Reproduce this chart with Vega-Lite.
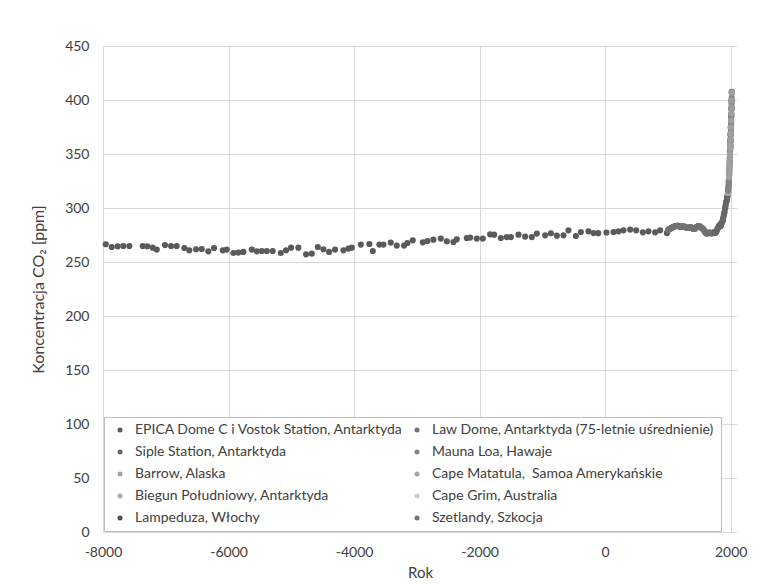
{
  "$schema": "https://vega.github.io/schema/vega-lite/v6.json",
  "width": 634,
  "height": 486,
  "autosize": {"type": "none"},
  "padding": {"left": 103, "top": 46, "right": 24, "bottom": 52},
  "background": "white",
  "config": {
    "view": {"stroke": null},
    "font": "Lato",
    "axis": {"labelFont": "Lato", "titleFont": "Lato", "labelColor": "#404040", "titleColor": "#404040", "gridColor": "#d9d9d9", "gridWidth": 1, "domain": false, "ticks": false, "labelFontSize": 14, "titleFontSize": 15, "titleFontWeight": "normal"}
  },
  "data": {"values": [
    {"s":"EPICA Dome C i Vostok Station, Antarktyda","yr":-7957,"v":266.4},
    {"s":"EPICA Dome C i Vostok Station, Antarktyda","yr":-7861,"v":263.9},
    {"s":"EPICA Dome C i Vostok Station, Antarktyda","yr":-7766,"v":264.5},
    {"s":"EPICA Dome C i Vostok Station, Antarktyda","yr":-7676,"v":264.8},
    {"s":"EPICA Dome C i Vostok Station, Antarktyda","yr":-7580,"v":264.8},
    {"s":"EPICA Dome C i Vostok Station, Antarktyda","yr":-7367,"v":264.8},
    {"s":"EPICA Dome C i Vostok Station, Antarktyda","yr":-7294,"v":264.5},
    {"s":"EPICA Dome C i Vostok Station, Antarktyda","yr":-7208,"v":263.3},
    {"s":"EPICA Dome C i Vostok Station, Antarktyda","yr":-7144,"v":261.5},
    {"s":"EPICA Dome C i Vostok Station, Antarktyda","yr":-7012,"v":265.7},
    {"s":"EPICA Dome C i Vostok Station, Antarktyda","yr":-6916,"v":264.8},
    {"s":"EPICA Dome C i Vostok Station, Antarktyda","yr":-6826,"v":264.8},
    {"s":"EPICA Dome C i Vostok Station, Antarktyda","yr":-6704,"v":263.0},
    {"s":"EPICA Dome C i Vostok Station, Antarktyda","yr":-6625,"v":260.8},
    {"s":"EPICA Dome C i Vostok Station, Antarktyda","yr":-6518,"v":261.8},
    {"s":"EPICA Dome C i Vostok Station, Antarktyda","yr":-6427,"v":262.0},
    {"s":"EPICA Dome C i Vostok Station, Antarktyda","yr":-6322,"v":259.9},
    {"s":"EPICA Dome C i Vostok Station, Antarktyda","yr":-6231,"v":263.0},
    {"s":"EPICA Dome C i Vostok Station, Antarktyda","yr":-6092,"v":260.8},
    {"s":"EPICA Dome C i Vostok Station, Antarktyda","yr":-6029,"v":261.5},
    {"s":"EPICA Dome C i Vostok Station, Antarktyda","yr":-5923,"v":258.3},
    {"s":"EPICA Dome C i Vostok Station, Antarktyda","yr":-5844,"v":258.7},
    {"s":"EPICA Dome C i Vostok Station, Antarktyda","yr":-5764,"v":259.3},
    {"s":"EPICA Dome C i Vostok Station, Antarktyda","yr":-5630,"v":261.5},
    {"s":"EPICA Dome C i Vostok Station, Antarktyda","yr":-5551,"v":259.9},
    {"s":"EPICA Dome C i Vostok Station, Antarktyda","yr":-5471,"v":260.2},
    {"s":"EPICA Dome C i Vostok Station, Antarktyda","yr":-5391,"v":260.2},
    {"s":"EPICA Dome C i Vostok Station, Antarktyda","yr":-5296,"v":260.2},
    {"s":"EPICA Dome C i Vostok Station, Antarktyda","yr":-5168,"v":258.3},
    {"s":"EPICA Dome C i Vostok Station, Antarktyda","yr":-5084,"v":260.8},
    {"s":"EPICA Dome C i Vostok Station, Antarktyda","yr":-5004,"v":263.3},
    {"s":"EPICA Dome C i Vostok Station, Antarktyda","yr":-4888,"v":263.3},
    {"s":"EPICA Dome C i Vostok Station, Antarktyda","yr":-4765,"v":257.1},
    {"s":"EPICA Dome C i Vostok Station, Antarktyda","yr":-4674,"v":257.8},
    {"s":"EPICA Dome C i Vostok Station, Antarktyda","yr":-4578,"v":263.9},
    {"s":"EPICA Dome C i Vostok Station, Antarktyda","yr":-4489,"v":261.8},
    {"s":"EPICA Dome C i Vostok Station, Antarktyda","yr":-4398,"v":259.3},
    {"s":"EPICA Dome C i Vostok Station, Antarktyda","yr":-4303,"v":261.5},
    {"s":"EPICA Dome C i Vostok Station, Antarktyda","yr":-4170,"v":260.8},
    {"s":"EPICA Dome C i Vostok Station, Antarktyda","yr":-4091,"v":262.4},
    {"s":"EPICA Dome C i Vostok Station, Antarktyda","yr":-4037,"v":263.3},
    {"s":"EPICA Dome C i Vostok Station, Antarktyda","yr":-3893,"v":266.1},
    {"s":"EPICA Dome C i Vostok Station, Antarktyda","yr":-3756,"v":266.7},
    {"s":"EPICA Dome C i Vostok Station, Antarktyda","yr":-3702,"v":260.2},
    {"s":"EPICA Dome C i Vostok Station, Antarktyda","yr":-3597,"v":266.1},
    {"s":"EPICA Dome C i Vostok Station, Antarktyda","yr":-3533,"v":266.1},
    {"s":"EPICA Dome C i Vostok Station, Antarktyda","yr":-3416,"v":268.0},
    {"s":"EPICA Dome C i Vostok Station, Antarktyda","yr":-3320,"v":265.2},
    {"s":"EPICA Dome C i Vostok Station, Antarktyda","yr":-3203,"v":265.2},
    {"s":"EPICA Dome C i Vostok Station, Antarktyda","yr":-3150,"v":267.6},
    {"s":"EPICA Dome C i Vostok Station, Antarktyda","yr":-3065,"v":270.1},
    {"s":"EPICA Dome C i Vostok Station, Antarktyda","yr":-2905,"v":268.2},
    {"s":"EPICA Dome C i Vostok Station, Antarktyda","yr":-2832,"v":269.4},
    {"s":"EPICA Dome C i Vostok Station, Antarktyda","yr":-2737,"v":270.7},
    {"s":"EPICA Dome C i Vostok Station, Antarktyda","yr":-2619,"v":271.7},
    {"s":"EPICA Dome C i Vostok Station, Antarktyda","yr":-2523,"v":269.2},
    {"s":"EPICA Dome C i Vostok Station, Antarktyda","yr":-2418,"v":268.5},
    {"s":"EPICA Dome C i Vostok Station, Antarktyda","yr":-2364,"v":271.0},
    {"s":"EPICA Dome C i Vostok Station, Antarktyda","yr":-2205,"v":272.2},
    {"s":"EPICA Dome C i Vostok Station, Antarktyda","yr":-2151,"v":272.6},
    {"s":"EPICA Dome C i Vostok Station, Antarktyda","yr":-2045,"v":271.7},
    {"s":"EPICA Dome C i Vostok Station, Antarktyda","yr":-1949,"v":271.7},
    {"s":"EPICA Dome C i Vostok Station, Antarktyda","yr":-1833,"v":275.6},
    {"s":"EPICA Dome C i Vostok Station, Antarktyda","yr":-1769,"v":275.3},
    {"s":"EPICA Dome C i Vostok Station, Antarktyda","yr":-1662,"v":272.2},
    {"s":"EPICA Dome C i Vostok Station, Antarktyda","yr":-1567,"v":273.1},
    {"s":"EPICA Dome C i Vostok Station, Antarktyda","yr":-1503,"v":273.1},
    {"s":"EPICA Dome C i Vostok Station, Antarktyda","yr":-1381,"v":275.3},
    {"s":"EPICA Dome C i Vostok Station, Antarktyda","yr":-1275,"v":273.5},
    {"s":"EPICA Dome C i Vostok Station, Antarktyda","yr":-1168,"v":273.1},
    {"s":"EPICA Dome C i Vostok Station, Antarktyda","yr":-1089,"v":276.3},
    {"s":"EPICA Dome C i Vostok Station, Antarktyda","yr":-956,"v":274.7},
    {"s":"EPICA Dome C i Vostok Station, Antarktyda","yr":-865,"v":276.6},
    {"s":"EPICA Dome C i Vostok Station, Antarktyda","yr":-770,"v":274.4},
    {"s":"EPICA Dome C i Vostok Station, Antarktyda","yr":-664,"v":274.7},
    {"s":"EPICA Dome C i Vostok Station, Antarktyda","yr":-585,"v":279.3},
    {"s":"EPICA Dome C i Vostok Station, Antarktyda","yr":-467,"v":274.1},
    {"s":"EPICA Dome C i Vostok Station, Antarktyda","yr":-387,"v":277.8},
    {"s":"EPICA Dome C i Vostok Station, Antarktyda","yr":-266,"v":278.4},
    {"s":"EPICA Dome C i Vostok Station, Antarktyda","yr":-186,"v":276.8},
    {"s":"EPICA Dome C i Vostok Station, Antarktyda","yr":-110,"v":276.7},
    {"s":"EPICA Dome C i Vostok Station, Antarktyda","yr":20,"v":277.3},
    {"s":"EPICA Dome C i Vostok Station, Antarktyda","yr":133,"v":277.8},
    {"s":"EPICA Dome C i Vostok Station, Antarktyda","yr":212,"v":278.4},
    {"s":"EPICA Dome C i Vostok Station, Antarktyda","yr":292,"v":279.3},
    {"s":"EPICA Dome C i Vostok Station, Antarktyda","yr":398,"v":280.0},
    {"s":"EPICA Dome C i Vostok Station, Antarktyda","yr":494,"v":279.3},
    {"s":"EPICA Dome C i Vostok Station, Antarktyda","yr":600,"v":277.5},
    {"s":"EPICA Dome C i Vostok Station, Antarktyda","yr":690,"v":278.4},
    {"s":"EPICA Dome C i Vostok Station, Antarktyda","yr":797,"v":277.5},
    {"s":"EPICA Dome C i Vostok Station, Antarktyda","yr":876,"v":279.3},
    {"s":"EPICA Dome C i Vostok Station, Antarktyda","yr":983,"v":276.8},
    {"s":"Law Dome, Antarktyda (75-letnie uśrednienie)","yr":1000,"v":279.5},
    {"s":"Law Dome, Antarktyda (75-letnie uśrednienie)","yr":1010,"v":279.8},
    {"s":"Law Dome, Antarktyda (75-letnie uśrednienie)","yr":1020,"v":280.2},
    {"s":"Law Dome, Antarktyda (75-letnie uśrednienie)","yr":1030,"v":280.6},
    {"s":"Law Dome, Antarktyda (75-letnie uśrednienie)","yr":1040,"v":281.0},
    {"s":"Law Dome, Antarktyda (75-letnie uśrednienie)","yr":1050,"v":281.3},
    {"s":"Law Dome, Antarktyda (75-letnie uśrednienie)","yr":1060,"v":281.6},
    {"s":"Law Dome, Antarktyda (75-letnie uśrednienie)","yr":1070,"v":282.0},
    {"s":"Law Dome, Antarktyda (75-letnie uśrednienie)","yr":1080,"v":282.3},
    {"s":"Law Dome, Antarktyda (75-letnie uśrednienie)","yr":1090,"v":282.6},
    {"s":"Law Dome, Antarktyda (75-letnie uśrednienie)","yr":1100,"v":282.9},
    {"s":"Law Dome, Antarktyda (75-letnie uśrednienie)","yr":1110,"v":283.1},
    {"s":"Law Dome, Antarktyda (75-letnie uśrednienie)","yr":1120,"v":283.3},
    {"s":"Law Dome, Antarktyda (75-letnie uśrednienie)","yr":1130,"v":283.4},
    {"s":"Law Dome, Antarktyda (75-letnie uśrednienie)","yr":1140,"v":283.5},
    {"s":"Law Dome, Antarktyda (75-letnie uśrednienie)","yr":1150,"v":283.5},
    {"s":"Law Dome, Antarktyda (75-letnie uśrednienie)","yr":1160,"v":283.4},
    {"s":"Law Dome, Antarktyda (75-letnie uśrednienie)","yr":1170,"v":283.2},
    {"s":"Law Dome, Antarktyda (75-letnie uśrednienie)","yr":1180,"v":283.0},
    {"s":"Law Dome, Antarktyda (75-letnie uśrednienie)","yr":1190,"v":282.8},
    {"s":"Law Dome, Antarktyda (75-letnie uśrednienie)","yr":1200,"v":282.6},
    {"s":"Law Dome, Antarktyda (75-letnie uśrednienie)","yr":1210,"v":282.5},
    {"s":"Law Dome, Antarktyda (75-letnie uśrednienie)","yr":1220,"v":282.6},
    {"s":"Law Dome, Antarktyda (75-letnie uśrednienie)","yr":1230,"v":282.8},
    {"s":"Law Dome, Antarktyda (75-letnie uśrednienie)","yr":1240,"v":283.0},
    {"s":"Law Dome, Antarktyda (75-letnie uśrednienie)","yr":1250,"v":283.0},
    {"s":"Law Dome, Antarktyda (75-letnie uśrednienie)","yr":1260,"v":282.8},
    {"s":"Law Dome, Antarktyda (75-letnie uśrednienie)","yr":1270,"v":282.5},
    {"s":"Law Dome, Antarktyda (75-letnie uśrednienie)","yr":1280,"v":282.2},
    {"s":"Law Dome, Antarktyda (75-letnie uśrednienie)","yr":1290,"v":281.9},
    {"s":"Law Dome, Antarktyda (75-letnie uśrednienie)","yr":1300,"v":281.7},
    {"s":"Law Dome, Antarktyda (75-letnie uśrednienie)","yr":1310,"v":281.5},
    {"s":"Law Dome, Antarktyda (75-letnie uśrednienie)","yr":1320,"v":281.5},
    {"s":"Law Dome, Antarktyda (75-letnie uśrednienie)","yr":1330,"v":281.7},
    {"s":"Law Dome, Antarktyda (75-letnie uśrednienie)","yr":1340,"v":282.0},
    {"s":"Law Dome, Antarktyda (75-letnie uśrednienie)","yr":1350,"v":282.2},
    {"s":"Law Dome, Antarktyda (75-letnie uśrednienie)","yr":1360,"v":282.3},
    {"s":"Law Dome, Antarktyda (75-letnie uśrednienie)","yr":1370,"v":282.1},
    {"s":"Law Dome, Antarktyda (75-letnie uśrednienie)","yr":1380,"v":281.7},
    {"s":"Law Dome, Antarktyda (75-letnie uśrednienie)","yr":1390,"v":281.2},
    {"s":"Law Dome, Antarktyda (75-letnie uśrednienie)","yr":1400,"v":280.8},
    {"s":"Law Dome, Antarktyda (75-letnie uśrednienie)","yr":1410,"v":280.6},
    {"s":"Law Dome, Antarktyda (75-letnie uśrednienie)","yr":1420,"v":280.6},
    {"s":"Law Dome, Antarktyda (75-letnie uśrednienie)","yr":1430,"v":280.9},
    {"s":"Law Dome, Antarktyda (75-letnie uśrednienie)","yr":1440,"v":281.4},
    {"s":"Law Dome, Antarktyda (75-letnie uśrednienie)","yr":1450,"v":282.0},
    {"s":"Law Dome, Antarktyda (75-letnie uśrednienie)","yr":1460,"v":282.5},
    {"s":"Law Dome, Antarktyda (75-letnie uśrednienie)","yr":1470,"v":282.9},
    {"s":"Law Dome, Antarktyda (75-letnie uśrednienie)","yr":1480,"v":283.2},
    {"s":"Law Dome, Antarktyda (75-letnie uśrednienie)","yr":1490,"v":283.3},
    {"s":"Law Dome, Antarktyda (75-letnie uśrednienie)","yr":1500,"v":283.2},
    {"s":"Law Dome, Antarktyda (75-letnie uśrednienie)","yr":1510,"v":282.9},
    {"s":"Law Dome, Antarktyda (75-letnie uśrednienie)","yr":1520,"v":282.4},
    {"s":"Law Dome, Antarktyda (75-letnie uśrednienie)","yr":1530,"v":281.8},
    {"s":"Law Dome, Antarktyda (75-letnie uśrednienie)","yr":1540,"v":281.3},
    {"s":"Law Dome, Antarktyda (75-letnie uśrednienie)","yr":1550,"v":281.0},
    {"s":"Law Dome, Antarktyda (75-letnie uśrednienie)","yr":1560,"v":280.6},
    {"s":"Law Dome, Antarktyda (75-letnie uśrednienie)","yr":1570,"v":279.8},
    {"s":"Law Dome, Antarktyda (75-letnie uśrednienie)","yr":1580,"v":278.8},
    {"s":"Law Dome, Antarktyda (75-letnie uśrednienie)","yr":1590,"v":277.8},
    {"s":"Law Dome, Antarktyda (75-letnie uśrednienie)","yr":1600,"v":277.0},
    {"s":"Law Dome, Antarktyda (75-letnie uśrednienie)","yr":1610,"v":276.4},
    {"s":"Law Dome, Antarktyda (75-letnie uśrednienie)","yr":1620,"v":276.3},
    {"s":"Law Dome, Antarktyda (75-letnie uśrednienie)","yr":1630,"v":276.6},
    {"s":"Law Dome, Antarktyda (75-letnie uśrednienie)","yr":1640,"v":277.0},
    {"s":"Law Dome, Antarktyda (75-letnie uśrednienie)","yr":1650,"v":277.3},
    {"s":"Law Dome, Antarktyda (75-letnie uśrednienie)","yr":1660,"v":277.2},
    {"s":"Law Dome, Antarktyda (75-letnie uśrednienie)","yr":1670,"v":276.9},
    {"s":"Law Dome, Antarktyda (75-letnie uśrednienie)","yr":1680,"v":276.6},
    {"s":"Law Dome, Antarktyda (75-letnie uśrednienie)","yr":1690,"v":276.5},
    {"s":"Law Dome, Antarktyda (75-letnie uśrednienie)","yr":1700,"v":276.7},
    {"s":"Law Dome, Antarktyda (75-letnie uśrednienie)","yr":1710,"v":277.1},
    {"s":"Law Dome, Antarktyda (75-letnie uśrednienie)","yr":1720,"v":277.4},
    {"s":"Law Dome, Antarktyda (75-letnie uśrednienie)","yr":1730,"v":277.5},
    {"s":"Law Dome, Antarktyda (75-letnie uśrednienie)","yr":1740,"v":277.3},
    {"s":"Law Dome, Antarktyda (75-letnie uśrednienie)","yr":1750,"v":277.1},
    {"s":"Law Dome, Antarktyda (75-letnie uśrednienie)","yr":1760,"v":277.3},
    {"s":"Law Dome, Antarktyda (75-letnie uśrednienie)","yr":1770,"v":278.0},
    {"s":"Law Dome, Antarktyda (75-letnie uśrednienie)","yr":1780,"v":279.2},
    {"s":"Law Dome, Antarktyda (75-letnie uśrednienie)","yr":1790,"v":280.5},
    {"s":"Law Dome, Antarktyda (75-letnie uśrednienie)","yr":1800,"v":281.6},
    {"s":"Law Dome, Antarktyda (75-letnie uśrednienie)","yr":1810,"v":282.6},
    {"s":"Law Dome, Antarktyda (75-letnie uśrednienie)","yr":1820,"v":283.5},
    {"s":"Law Dome, Antarktyda (75-letnie uśrednienie)","yr":1830,"v":284.3},
    {"s":"Law Dome, Antarktyda (75-letnie uśrednienie)","yr":1840,"v":285.2},
    {"s":"Law Dome, Antarktyda (75-letnie uśrednienie)","yr":1850,"v":285.8},
    {"s":"Law Dome, Antarktyda (75-letnie uśrednienie)","yr":1860,"v":286.6},
    {"s":"Law Dome, Antarktyda (75-letnie uśrednienie)","yr":1870,"v":288.0},
    {"s":"Law Dome, Antarktyda (75-letnie uśrednienie)","yr":1880,"v":290.0},
    {"s":"Law Dome, Antarktyda (75-letnie uśrednienie)","yr":1890,"v":293.0},
    {"s":"Law Dome, Antarktyda (75-letnie uśrednienie)","yr":1900,"v":296.0},
    {"s":"Law Dome, Antarktyda (75-letnie uśrednienie)","yr":1910,"v":299.5},
    {"s":"Law Dome, Antarktyda (75-letnie uśrednienie)","yr":1920,"v":303.0},
    {"s":"Law Dome, Antarktyda (75-letnie uśrednienie)","yr":1930,"v":306.0},
    {"s":"Law Dome, Antarktyda (75-letnie uśrednienie)","yr":1940,"v":309.5},
    {"s":"Law Dome, Antarktyda (75-letnie uśrednienie)","yr":1950,"v":311.5},
    {"s":"Law Dome, Antarktyda (75-letnie uśrednienie)","yr":1960,"v":316.5},
    {"s":"Law Dome, Antarktyda (75-letnie uśrednienie)","yr":1970,"v":325.0},
    {"s":"Siple Station, Antarktyda","yr":1744,"v":276.8},
    {"s":"Siple Station, Antarktyda","yr":1764,"v":277.2},
    {"s":"Siple Station, Antarktyda","yr":1791,"v":281.5},
    {"s":"Siple Station, Antarktyda","yr":1816,"v":283.8},
    {"s":"Siple Station, Antarktyda","yr":1839,"v":283.2},
    {"s":"Siple Station, Antarktyda","yr":1850,"v":285.1},
    {"s":"Siple Station, Antarktyda","yr":1870,"v":287.5},
    {"s":"Siple Station, Antarktyda","yr":1879,"v":290.5},
    {"s":"Siple Station, Antarktyda","yr":1891,"v":294.0},
    {"s":"Siple Station, Antarktyda","yr":1900,"v":295.8},
    {"s":"Siple Station, Antarktyda","yr":1910,"v":299.5},
    {"s":"Siple Station, Antarktyda","yr":1915,"v":301.0},
    {"s":"Siple Station, Antarktyda","yr":1925,"v":305.0},
    {"s":"Siple Station, Antarktyda","yr":1935,"v":306.5},
    {"s":"Siple Station, Antarktyda","yr":1945,"v":309.5},
    {"s":"Siple Station, Antarktyda","yr":1953,"v":312.5},
    {"s":"Cape Grim, Australia","yr":1977,"v":331.0},
    {"s":"Cape Grim, Australia","yr":1980,"v":336.0},
    {"s":"Cape Grim, Australia","yr":1983,"v":340.5},
    {"s":"Cape Grim, Australia","yr":1986,"v":345.0},
    {"s":"Cape Grim, Australia","yr":1989,"v":350.5},
    {"s":"Cape Grim, Australia","yr":1992,"v":354.5},
    {"s":"Cape Grim, Australia","yr":1995,"v":358.5},
    {"s":"Cape Grim, Australia","yr":1998,"v":364.0},
    {"s":"Cape Grim, Australia","yr":2001,"v":369.0},
    {"s":"Cape Grim, Australia","yr":2004,"v":375.0},
    {"s":"Cape Grim, Australia","yr":2007,"v":381.0},
    {"s":"Cape Grim, Australia","yr":2010,"v":387.0},
    {"s":"Cape Grim, Australia","yr":2013,"v":394.0},
    {"s":"Cape Grim, Australia","yr":2016,"v":401.0},
    {"s":"Biegun Południowy, Antarktyda","yr":1957,"v":314.0},
    {"s":"Biegun Południowy, Antarktyda","yr":1961,"v":316.5},
    {"s":"Biegun Południowy, Antarktyda","yr":1965,"v":319.0},
    {"s":"Biegun Południowy, Antarktyda","yr":1969,"v":322.5},
    {"s":"Biegun Południowy, Antarktyda","yr":1973,"v":327.0},
    {"s":"Biegun Południowy, Antarktyda","yr":1977,"v":332.0},
    {"s":"Biegun Południowy, Antarktyda","yr":1981,"v":338.0},
    {"s":"Biegun Południowy, Antarktyda","yr":1985,"v":343.5},
    {"s":"Biegun Południowy, Antarktyda","yr":1989,"v":350.0},
    {"s":"Biegun Południowy, Antarktyda","yr":1993,"v":355.0},
    {"s":"Biegun Południowy, Antarktyda","yr":1997,"v":360.5},
    {"s":"Biegun Południowy, Antarktyda","yr":2001,"v":368.0},
    {"s":"Biegun Południowy, Antarktyda","yr":2005,"v":376.0},
    {"s":"Biegun Południowy, Antarktyda","yr":2009,"v":384.0},
    {"s":"Biegun Południowy, Antarktyda","yr":2013,"v":393.5},
    {"s":"Biegun Południowy, Antarktyda","yr":2017,"v":403.0},
    {"s":"Cape Matatula, \u00a0Samoa Amerykańskie","yr":1976,"v":330.5},
    {"s":"Cape Matatula, \u00a0Samoa Amerykańskie","yr":1979,"v":334.5},
    {"s":"Cape Matatula, \u00a0Samoa Amerykańskie","yr":1982,"v":339.0},
    {"s":"Cape Matatula, \u00a0Samoa Amerykańskie","yr":1985,"v":343.5},
    {"s":"Cape Matatula, \u00a0Samoa Amerykańskie","yr":1988,"v":349.0},
    {"s":"Cape Matatula, \u00a0Samoa Amerykańskie","yr":1991,"v":353.5},
    {"s":"Cape Matatula, \u00a0Samoa Amerykańskie","yr":1994,"v":356.5},
    {"s":"Cape Matatula, \u00a0Samoa Amerykańskie","yr":1997,"v":361.5},
    {"s":"Cape Matatula, \u00a0Samoa Amerykańskie","yr":2000,"v":367.0},
    {"s":"Cape Matatula, \u00a0Samoa Amerykańskie","yr":2003,"v":373.5},
    {"s":"Cape Matatula, \u00a0Samoa Amerykańskie","yr":2006,"v":379.5},
    {"s":"Cape Matatula, \u00a0Samoa Amerykańskie","yr":2009,"v":385.0},
    {"s":"Cape Matatula, \u00a0Samoa Amerykańskie","yr":2012,"v":391.5},
    {"s":"Cape Matatula, \u00a0Samoa Amerykańskie","yr":2015,"v":398.0},
    {"s":"Lampeduza, Włochy","yr":1993,"v":357.5},
    {"s":"Lampeduza, Włochy","yr":1996,"v":362.5},
    {"s":"Lampeduza, Włochy","yr":1999,"v":368.0},
    {"s":"Lampeduza, Włochy","yr":2002,"v":374.0},
    {"s":"Lampeduza, Włochy","yr":2005,"v":380.5},
    {"s":"Lampeduza, Włochy","yr":2008,"v":386.0},
    {"s":"Lampeduza, Włochy","yr":2011,"v":392.5},
    {"s":"Lampeduza, Włochy","yr":2014,"v":399.0},
    {"s":"Lampeduza, Włochy","yr":2017,"v":407.5},
    {"s":"Szetlandy, Szkocja","yr":1993,"v":358.0},
    {"s":"Szetlandy, Szkocja","yr":1996,"v":363.0},
    {"s":"Szetlandy, Szkocja","yr":1999,"v":368.5},
    {"s":"Szetlandy, Szkocja","yr":2002,"v":374.5},
    {"s":"Szetlandy, Szkocja","yr":2005,"v":380.5},
    {"s":"Szetlandy, Szkocja","yr":2008,"v":386.5},
    {"s":"Szetlandy, Szkocja","yr":2011,"v":392.0},
    {"s":"Szetlandy, Szkocja","yr":2014,"v":399.5},
    {"s":"Szetlandy, Szkocja","yr":2017,"v":407.0},
    {"s":"Mauna Loa, Hawaje","yr":1959,"v":316.0},
    {"s":"Mauna Loa, Hawaje","yr":1961,"v":317.6},
    {"s":"Mauna Loa, Hawaje","yr":1963,"v":319.0},
    {"s":"Mauna Loa, Hawaje","yr":1965,"v":320.0},
    {"s":"Mauna Loa, Hawaje","yr":1967,"v":322.2},
    {"s":"Mauna Loa, Hawaje","yr":1969,"v":324.6},
    {"s":"Mauna Loa, Hawaje","yr":1971,"v":326.3},
    {"s":"Mauna Loa, Hawaje","yr":1973,"v":329.7},
    {"s":"Mauna Loa, Hawaje","yr":1975,"v":331.1},
    {"s":"Mauna Loa, Hawaje","yr":1977,"v":333.8},
    {"s":"Mauna Loa, Hawaje","yr":1979,"v":336.8},
    {"s":"Mauna Loa, Hawaje","yr":1981,"v":340.1},
    {"s":"Mauna Loa, Hawaje","yr":1983,"v":342.9},
    {"s":"Mauna Loa, Hawaje","yr":1985,"v":346.4},
    {"s":"Mauna Loa, Hawaje","yr":1987,"v":349.2},
    {"s":"Mauna Loa, Hawaje","yr":1989,"v":353.1},
    {"s":"Mauna Loa, Hawaje","yr":1991,"v":355.5},
    {"s":"Mauna Loa, Hawaje","yr":1993,"v":357.0},
    {"s":"Mauna Loa, Hawaje","yr":1995,"v":360.8},
    {"s":"Mauna Loa, Hawaje","yr":1997,"v":363.7},
    {"s":"Mauna Loa, Hawaje","yr":1999,"v":368.3},
    {"s":"Mauna Loa, Hawaje","yr":2001,"v":371.1},
    {"s":"Mauna Loa, Hawaje","yr":2003,"v":375.8},
    {"s":"Mauna Loa, Hawaje","yr":2005,"v":379.8},
    {"s":"Mauna Loa, Hawaje","yr":2007,"v":383.8},
    {"s":"Mauna Loa, Hawaje","yr":2009,"v":387.4},
    {"s":"Mauna Loa, Hawaje","yr":2011,"v":391.7},
    {"s":"Mauna Loa, Hawaje","yr":2013,"v":396.5},
    {"s":"Mauna Loa, Hawaje","yr":2015,"v":401.0},
    {"s":"Mauna Loa, Hawaje","yr":2017,"v":406.6},
    {"s":"Barrow, Alaska","yr":1972,"v":328.5},
    {"s":"Barrow, Alaska","yr":1975,"v":332.0},
    {"s":"Barrow, Alaska","yr":1978,"v":336.6},
    {"s":"Barrow, Alaska","yr":1981,"v":341.0},
    {"s":"Barrow, Alaska","yr":1984,"v":345.2},
    {"s":"Barrow, Alaska","yr":1987,"v":349.8},
    {"s":"Barrow, Alaska","yr":1990,"v":355.0},
    {"s":"Barrow, Alaska","yr":1993,"v":358.0},
    {"s":"Barrow, Alaska","yr":1996,"v":363.5},
    {"s":"Barrow, Alaska","yr":1999,"v":369.0},
    {"s":"Barrow, Alaska","yr":2002,"v":374.5},
    {"s":"Barrow, Alaska","yr":2005,"v":381.0},
    {"s":"Barrow, Alaska","yr":2008,"v":387.5},
    {"s":"Barrow, Alaska","yr":2011,"v":393.0},
    {"s":"Barrow, Alaska","yr":2014,"v":399.5},
    {"s":"Barrow, Alaska","yr":2017,"v":407.0}
  ]},
  "mark": {"type": "point", "filled": true, "opacity": 1, "size": 38, "shape": "circle"},
  "encoding": {
    "x": {"field": "yr", "type": "quantitative", "title": "Rok",
      "scale": {"domain": [-8000, 2100], "nice": false, "zero": false},
      "axis": {"values": [-8000, -6000, -4000, -2000, 0, 2000], "labelExpr": "datum.value + ''", "labelPadding": 13, "titlePadding": 6, "labelFlush": false}},
    "y": {"field": "v", "type": "quantitative", "title": "Koncentracja CO₂ [ppm]",
      "scale": {"domain": [0, 450], "nice": false},
      "axis": {"values": [0, 50, 100, 150, 200, 250, 300, 350, 400, 450], "labelPadding": 14, "titlePadding": 18, "titleFontSize": 16}},
    "color": {"field": "s", "type": "nominal", "title": null,
      "scale": {
        "domain": ["EPICA Dome C i Vostok Station, Antarktyda", "Siple Station, Antarktyda", "Barrow, Alaska", "Biegun Południowy, Antarktyda", "Lampeduza, Włochy", "Law Dome, Antarktyda (75-letnie uśrednienie)", "Mauna Loa, Hawaje", "Cape Matatula, \u00a0Samoa Amerykańskie", "Cape Grim, Australia", "Szetlandy, Szkocja"],
        "range": ["#5a5a5a", "#666666", "#a0a0a0", "#acacac", "#4e4e4e", "#727272", "#848484", "#a4a4a4", "#cdcdcd", "#747474"]},
      "legend": {"orient": "none", "legendX": 1, "legendY": 371, "columns": 2, "direction": "vertical",
        "strokeColor": "#bfbfbf", "fillColor": "white", "padding": 6, "rowPadding": 8, "columnPadding": 3,
        "symbolType": "circle", "symbolSize": 25, "symbolOffset": 3, "symbolStrokeWidth": 0, "labelOffset": 8,
        "labelFont": "Lato", "labelFontSize": 14, "labelColor": "#404040", "labelLimit": 400}}
  }
}
